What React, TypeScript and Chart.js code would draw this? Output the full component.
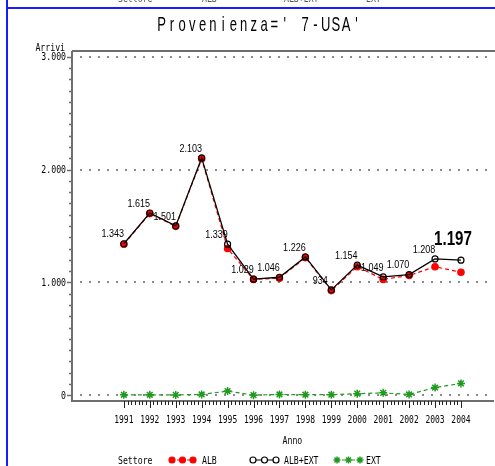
import React, { useEffect, useRef } from 'react';
import { Chart, registerables } from 'chart.js';

Chart.register(...registerables);

const years = [1991, 1992, 1993, 1994, 1995, 1996, 1997, 1998, 1999, 2000, 2001, 2002, 2003, 2004];
const albExt = [1343, 1615, 1501, 2103, 1339, 1029, 1046, 1226, 934, 1154, 1049, 1070, 1208, 1197];
const alb = [1338, 1610, 1497, 2095, 1301, 1027, 1038, 1220, 928, 1139, 1027, 1062, 1139, 1091];
const ext = [5, 5, 4, 8, 38, 2, 8, 6, 6, 15, 22, 8, 69, 106];
const yTicks = [0, 1000, 2000, 3000];
const yTickLabels = ['0', '1.000', '2.000', '3.000'];
const seriesNames = ['ALB', 'ALB+EXT', 'EXT'];
const titleText = "Provenienza=' 7-USA'";
const yTitle = 'Arrivi';
const xTitle = 'Anno';
const legendTitle = 'Settore';

const RED = '#ff0000';
const BLACK = '#000000';
const GREEN = '#1f9a1f';
const AXIS = '#6e6e6e';
const MONO = "'DejaVu Sans Mono', monospace";

function fmt(v: number): string {
  const s = String(Math.round(v));
  return s.replace(/\B(?=(\d{3})+(?!\d))/g, '.');
}

function txt(ctx: CanvasRenderingContext2D, s: string, x: number, y: number, font: string, sx: number,
  align: 'left' | 'center' | 'right', baseline: CanvasTextBaseline = 'alphabetic', color = '#000') {
  ctx.save();
  ctx.font = font;
  ctx.fillStyle = color;
  ctx.textBaseline = baseline;
  ctx.textAlign = 'left';
  const w = ctx.measureText(s).width * sx;
  const x0 = align === 'left' ? x : align === 'center' ? x - w / 2 : x - w;
  ctx.translate(x0, y);
  ctx.scale(sx, 1);
  ctx.fillText(s, 0, 0);
  ctx.restore();
}

// monospaced cell text: each glyph centred in a fixed-width cell
function cellTxt(ctx: CanvasRenderingContext2D, s: string, cx: number, y: number, cell: number, font: string, sx: number) {
  const start = cx - (s.length * cell) / 2;
  ctx.save();
  ctx.font = font;
  ctx.fillStyle = '#000';
  ctx.textAlign = 'center';
  ctx.textBaseline = 'alphabetic';
  for (let i = 0; i < s.length; i++) {
    ctx.save();
    ctx.translate(start + i * cell + cell / 2, y);
    ctx.scale(sx, 1);
    ctx.fillText(s[i], 0, 0);
    ctx.restore();
  }
  ctx.restore();
}

function star(ctx: CanvasRenderingContext2D, x: number, y: number, r: number, color: string) {
  ctx.save();
  ctx.strokeStyle = color;
  ctx.lineWidth = 1.5;
  ctx.beginPath();
  for (let k = 0; k < 4; k++) {
    const a = (k * Math.PI) / 4;
    ctx.moveTo(x - r * Math.cos(a), y - r * Math.sin(a));
    ctx.lineTo(x + r * Math.cos(a), y + r * Math.sin(a));
  }
  ctx.stroke();
  ctx.restore();
}

function circle(ctx: CanvasRenderingContext2D, x: number, y: number, r: number, fill: string | null, stroke: string) {
  ctx.save();
  ctx.beginPath();
  ctx.arc(x, y, r, 0, Math.PI * 2);
  if (fill) { ctx.fillStyle = fill; ctx.fill(); }
  ctx.strokeStyle = stroke;
  ctx.lineWidth = 1.2;
  ctx.stroke();
  ctx.restore();
}

const sasPlugin = {
  id: 'sasPlugin',
  beforeDraw(chart: any) {
    const ctx: CanvasRenderingContext2D = chart.ctx;
    ctx.save();
    ctx.fillStyle = '#ffffff';
    ctx.fillRect(0, 0, chart.width, chart.height);
    // page frame (blue)
    ctx.fillStyle = '#1a1aff';
    ctx.fillRect(6, 0, 2, chart.height);
    ctx.fillRect(6, 7, chart.width - 6, 2);
    ctx.restore();
    // fragments of previous page legend
    const lf = `10px ${MONO}`;
    txt(ctx, legendTitle, 118, 2, lf, 0.82, 'left', 'alphabetic', '#555');
    txt(ctx, seriesNames[0], 202, 2, lf, 0.82, 'left', 'alphabetic', '#555');
    txt(ctx, seriesNames[1], 284, 2, lf, 0.82, 'left', 'alphabetic', '#555');
    txt(ctx, seriesNames[2], 366, 2, lf, 0.82, 'left', 'alphabetic', '#555');
    // title
    cellTxt(ctx, titleText, 259, 30.5, 10.25, "21px 'Liberation Sans', Arial, sans-serif", 0.62);
  },
  beforeDatasetsDraw(chart: any) {
    const ctx: CanvasRenderingContext2D = chart.ctx;
    const { left, right, top, bottom } = chart.chartArea;
    const xs = chart.scales.x;
    const ys = chart.scales.y;
    const tf = `10px ${MONO}`;
    // dotted grid lines
    ctx.save();
    ctx.strokeStyle = '#8a8a8a';
    ctx.lineWidth = 2;
    ctx.setLineDash([2, 7]);
    for (const v of yTicks) {
      const y = Math.round(ys.getPixelForValue(v));
      ctx.beginPath();
      ctx.moveTo(left + 8, y);
      ctx.lineTo(right - 1, y);
      ctx.stroke();
    }
    ctx.restore();
    // axes
    ctx.save();
    ctx.strokeStyle = AXIS;
    ctx.lineWidth = 2;
    ctx.beginPath();
    ctx.moveTo(left, top);
    ctx.lineTo(left, bottom);
    ctx.lineTo(chart.width - 1, bottom);
    ctx.moveTo(left, top);
    ctx.lineTo(chart.width, top);
    ctx.stroke();
    // y ticks
    ctx.lineWidth = 1.5;
    ctx.beginPath();
    for (let v = 0; v <= 3000; v += 100) {
      const y = Math.round(ys.getPixelForValue(v)) + 0.5;
      const major = v % 1000 === 0;
      ctx.moveTo(left - (major ? 5 : 3), y);
      ctx.lineTo(left, y);
    }
    ctx.stroke();
    // x ticks
    ctx.lineWidth = 1;
    ctx.beginPath();
    for (let i = 0; i < years.length; i++) {
      const x = Math.round(xs.getPixelForValue(years[i])) + 0.5;
      ctx.moveTo(x, bottom);
      ctx.lineTo(x, bottom + 7);
      if (i < years.length - 1) {
        for (let k = 1; k <= 6; k++) {
          const xm = Math.round(xs.getPixelForValue(years[i] + k / 7)) + 0.5;
          ctx.moveTo(xm, bottom);
          ctx.lineTo(xm, bottom + 4);
        }
      }
    }
    ctx.strokeStyle = '#222';
    ctx.stroke();
    ctx.restore();
    // tick labels
    yTicks.forEach((v, i) => {
      const y = ys.getPixelForValue(v);
      txt(ctx, yTickLabels[i], 66, y + 3.5, tf, 0.82, 'right');
    });
    years.forEach((yr) => {
      txt(ctx, String(yr), xs.getPixelForValue(yr), bottom + 22, tf, 0.8, 'center');
    });
    txt(ctx, yTitle, 65, 50.5, tf, 0.82, 'right');
    const midX = (xs.getPixelForValue(years[0]) + xs.getPixelForValue(years[years.length - 1])) / 2;
    txt(ctx, xTitle, midX, 444, tf, 0.82, 'center');
  },
  afterDatasetsDraw(chart: any) {
    const ctx: CanvasRenderingContext2D = chart.ctx;
    const xs = chart.scales.x;
    const ys = chart.scales.y;
    // data labels for ALB+EXT
    albExt.forEach((v, i) => {
      const x = xs.getPixelForValue(years[i]);
      const y = ys.getPixelForValue(v);
      if (i === albExt.length - 1) {
        txt(ctx, fmt(v), x - 8, y - 21, "bold 21px 'Liberation Sans', Arial, sans-serif", 0.72, 'center', 'middle');
      } else {
        txt(ctx, fmt(v), x - 11, y - 9, "10px 'Liberation Sans', Arial, sans-serif", 0.9, 'center', 'middle');
      }
    });
    // legend
    const lf = `10px ${MONO}`;
    const ly = 460;
    txt(ctx, legendTitle, 118, 464, lf, 0.82, 'left');
    // ALB
    ctx.save();
    ctx.strokeStyle = RED;
    ctx.lineWidth = 1.2;
    ctx.setLineDash([3, 2]);
    ctx.beginPath(); ctx.moveTo(172, ly); ctx.lineTo(193, ly); ctx.stroke();
    ctx.restore();
    [172, 182.5, 193].forEach((x) => circle(ctx, x, ly, 3, RED, RED));
    txt(ctx, seriesNames[0], 202, 464, lf, 0.82, 'left');
    // ALB+EXT
    ctx.save();
    ctx.strokeStyle = BLACK;
    ctx.lineWidth = 1;
    ctx.beginPath(); ctx.moveTo(253, ly); ctx.lineTo(276, ly); ctx.stroke();
    ctx.restore();
    [253, 264.5, 276].forEach((x) => circle(ctx, x, ly, 3, '#fff', BLACK));
    txt(ctx, seriesNames[1], 284, 464, lf, 0.82, 'left');
    // EXT
    ctx.save();
    ctx.strokeStyle = GREEN;
    ctx.lineWidth = 1.2;
    ctx.setLineDash([3, 2]);
    ctx.beginPath(); ctx.moveTo(337, ly); ctx.lineTo(360, ly); ctx.stroke();
    ctx.restore();
    [337, 348.5, 360].forEach((x) => star(ctx, x, ly, 3.5, GREEN));
    txt(ctx, seriesNames[2], 366, 464, lf, 0.82, 'left');
  },
};

export default function App() {
  const ref = useRef<HTMLCanvasElement | null>(null);
  useEffect(() => {
    if (!ref.current) return;
    const toXY = (vals: number[]) => vals.map((v, i) => ({ x: years[i], y: v }));
    const chart = new Chart(ref.current, {
      type: 'line',
      data: {
        datasets: [
          {
            label: seriesNames[1],
            data: toXY(albExt),
            borderColor: BLACK,
            borderWidth: 1.3,
            pointRadius: 3,
            pointBorderWidth: 1.2,
            pointBackgroundColor: 'rgba(0,0,0,0)',
            pointBorderColor: BLACK,
            tension: 0,
            order: 0,
          },
          {
            label: seriesNames[0],
            data: toXY(alb),
            borderColor: RED,
            borderWidth: 1.2,
            borderDash: [4, 3],
            pointRadius: 3.2,
            pointBackgroundColor: RED,
            pointBorderColor: RED,
            tension: 0,
            order: 1,
          },
          {
            label: seriesNames[2],
            data: toXY(ext),
            borderColor: GREEN,
            borderWidth: 1.2,
            borderDash: [4, 3],
            pointStyle: 'star',
            pointRadius: 4,
            pointBorderWidth: 1.5,
            pointBorderColor: GREEN,
            pointBackgroundColor: GREEN,
            tension: 0,
            order: 2,
          },
        ],
      },
      options: {
        animation: false,
        responsive: false,
        devicePixelRatio: 1,
        layout: { padding: { left: 72, right: 5, top: 51, bottom: 65 } },
        scales: {
          x: { type: 'linear', min: 1989, max: 2005.1, display: false },
          y: { type: 'linear', min: -50, max: 3050, display: false },
        },
        plugins: {
          legend: { display: false },
          title: { display: false },
          tooltip: { enabled: false },
        },
      },
      plugins: [sasPlugin],
    } as any);
    return () => chart.destroy();
  }, []);
  return (
    <div style={{ position: 'absolute', left: 0, top: 0, width: 495, height: 466, background: '#fff' }}>
      <canvas ref={ref} width={495} height={466} style={{ display: 'block', width: 495, height: 466 }} />
    </div>
  );
}
